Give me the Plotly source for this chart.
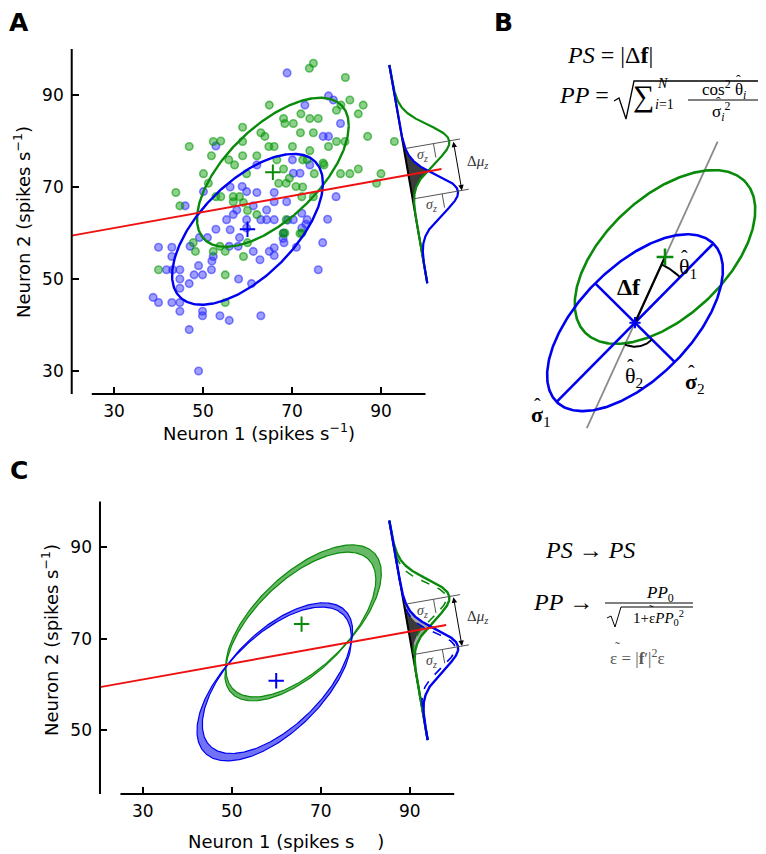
import numpy as np
import plotly.graph_objects as go

W, H = 766, 854          # reference picture size
OFF = 8                   # page body margin
FW, FH = W - OFF, H - OFF  # figure size so that it fits the window

# ---------------- data ----------------
green_x = [74.8, 73.9, 82.0, 83.0, 86.0, 84.9, 80.0, 81.0, 64.9, 72.0, 74.0, 75.9, 68.1, 68.4, 70.3,
           71.9, 74.8, 87.0, 93.0, 80.0, 81.9, 78.2, 70.1, 64.8, 66.0, 58.9, 63.0, 63.9, 52.3,
           46.9, 58.9, 51.9, 55.8, 57.1, 58.9, 62.1, 66.6, 68.1, 72.4, 73.4, 74.0, 77.2, 84.9,
           80.9, 83.0, 90.0, 89.0, 75.0, 50.1, 59.8, 69.4, 70.9, 67.0, 68.7, 51.2, 43.9, 44.8,
           52.9, 54.0, 56.8, 58.2, 56.8, 59.1, 60.0, 72.4, 72.2, 74.8, 68.7, 68.4, 72.2, 62.1,
           53.8, 47.8, 48.3, 52.3, 55.0, 59.1, 60.0, 40.0, 55.0, 55.0, 54.0, 68.0, 71.8, 77.0]
green_y = [96.9, 95.8, 93.8, 88.9, 87.8, 85.9, 86.7, 87.8, 87.8, 85.9, 84.9, 84.9, 84.9, 83.8, 83.8,
           81.8, 81.8, 81.0, 79.9, 79.9, 79.9, 78.8, 78.8, 78.8, 78.8, 83.0, 81.8, 81.0, 79.9,
           78.8, 79.9, 76.8, 75.9, 74.8, 76.8, 76.8, 75.9, 73.9, 75.9, 75.9, 77.9, 74.8, 73.9,
           72.9, 72.9, 72.9, 70.8, 72.9, 72.9, 72.9, 71.9, 70.1, 70.8, 70.8, 70.8, 68.8, 65.9,
           67.9, 67.9, 67.9, 67.9, 66.8, 66.6, 64.9, 70.0, 67.9, 67.9, 62.9, 60.0, 60.0, 64.0,
           57.1, 57.9, 56.0, 56.0, 56.0, 54.9, 57.9, 52.0, 50.9, 44.9, 80.0, 59.9, 59.9, 75.2]

blue_x = [68.9, 78.2, 79.3, 72.9, 80.9, 77.0, 78.2, 52.9, 62.1, 70.3, 71.8, 70.1, 74.0, 50.1,
          46.0, 56.1, 58.8, 59.8, 62.1, 66.0, 66.0, 68.8, 61.3, 57.6, 56.8, 55.3, 59.8, 59.8,
          63.0, 64.3, 66.0, 70.3, 72.2, 73.4, 52.9, 49.2, 51.0, 47.1, 58.2, 57.9, 61.3, 64.9,
          66.0, 62.8, 68.2, 76.9, 78.0, 75.9, 40.0, 43.0, 43.0, 41.8, 43.2, 44.8, 49.0, 48.0,
          49.9, 51.9, 44.8, 44.8, 46.9, 58.0, 60.9, 38.8, 40.0, 43.0, 44.8, 44.8, 49.9, 49.9,
          53.8, 55.9, 63.0, 46.9, 49.0, 79.9, 64.3, 68.1, 72.2, 56.1, 52.3, 55.9, 69.0, 68.0,
          73.1, 66.0, 71.0, 52.0]
blue_y = [94.8, 89.8, 88.9, 87.8, 83.8, 81.0, 81.0, 78.9, 74.8, 73.0, 73.0, 75.9, 74.8, 69.0,
          65.9, 70.0, 70.1, 69.0, 68.8, 68.8, 66.8, 66.8, 65.9, 65.0, 64.0, 62.9, 62.9, 61.1,
          62.9, 62.9, 62.9, 62.9, 61.1, 62.9, 60.8, 59.0, 59.0, 57.1, 59.0, 57.1, 56.0, 56.0,
          55.1, 54.2, 57.9, 57.9, 63.0, 52.0, 56.9, 56.9, 54.9, 52.0, 52.0, 52.0, 52.9, 50.9,
          50.9, 52.0, 50.0, 48.0, 49.0, 50.0, 49.0, 46.0, 44.9, 44.9, 44.9, 43.0, 43.0, 42.0,
          42.0, 41.0, 42.0, 39.0, 30.0, 67.9, 65.0, 60.0, 64.3, 60.7, 54.9, 57.1, 62.8, 58.8,
          61.9, 56.8, 56.9, 53.9]

tick_x = [30, 50, 70, 90]
tick_y_a = [30, 50, 70, 90]
tick_y_c = [50, 70, 90]

# covariance ellipses: centre, half extent (x, y), coupling (cos of phase)
green_center = [65.7, 73.2]
blue_center = [60.0, 60.8]
green_extent = [17.05, 16.2]
blue_extent = [16.95, 16.4]
green_link = 0.625
blue_link = 0.61

# decision line defined by the two ellipse crossings
boundary_x = [49.0, 76.5]
boundary_y = [64.4, 69.2]

# projected distributions (screen units along the projection axis)
proj_mu = [85.0, 136.0]        # green, blue
proj_sigma = 19.5
proj_peak = 46.0
proj_sigma_noisy = 20.5
proj_sigma_clean = 17.5
proj_peak_clean = 43.0

# ---------------- panel geometry (reference pixels) ----------------
PA = dict(x0=114.0, xs=4.45, y0=95.0, ys=4.6, xr=(20.5, 112.0), yr=(25.0, 100.0))
PC = dict(x0=142.7, xs=4.45, y0=547.3, ys=4.57, xr=(20.4, 110.0), yr=(36.0, 100.0))
axisA = dict(x=[91.87, 100.4], y=[96.52, 49.07])
axisC = dict(x=[85.42, 94.04], y=[95.82, 47.83])
red_end = dict(A=103.6, C=98.2)


def FX(X):
    return (X - OFF) / FW


def FY(Y):
    return 1 - (Y - OFF) / FH


def sx(p, x):
    return p['x0'] + (np.asarray(x, float) - 30.0) * p['xs']


def sy(p, y):
    return p['y0'] + (90.0 - np.asarray(y, float)) * p['ys']


def dx(p, X):
    return 30.0 + (np.asarray(X, float) - p['x0']) / p['xs']


def dy(p, Y):
    return 90.0 - (np.asarray(Y, float) - p['y0']) / p['ys']


def domain(p):
    return ([FX(float(sx(p, p['xr'][0]))), FX(float(sx(p, p['xr'][1])))],
            [FY(float(sy(p, p['yr'][0]))), FY(float(sy(p, p['yr'][1])))])


slope = (boundary_y[1] - boundary_y[0]) / (boundary_x[1] - boundary_x[0])
icpt = boundary_y[0] - slope * boundary_x[0]

GREEN = '#0a8a0a'
BLUE = '#0000f0'
RED = '#ee1111'
SERIF = 'Liberation Serif'


def ellipse(c, e, k, n=400):
    t = np.linspace(0, 2 * np.pi, n)
    ph = np.arccos(k)
    return c[0] + e[0] * np.cos(t), c[1] + e[1] * np.cos(t - ph)


fig = go.Figure()

# ---------------- panel A ----------------
fig.add_trace(go.Scatter(x=blue_x, y=blue_y, mode='markers', xaxis='x', yaxis='y',
                         marker=dict(size=7.5, color='rgba(40,40,255,0.45)',
                                     line=dict(color='rgba(40,40,255,0.55)', width=1.6))))
fig.add_trace(go.Scatter(x=green_x, y=green_y, mode='markers', xaxis='x', yaxis='y',
                         marker=dict(size=7.5, color='rgba(0,150,0,0.45)',
                                     line=dict(color='rgba(0,150,0,0.55)', width=1.6))))
for c, e, k, col in [(green_center, green_extent, green_link, GREEN),
                     (blue_center, blue_extent, blue_link, BLUE)]:
    ex, ey = ellipse(c, e, k)
    fig.add_trace(go.Scatter(x=ex, y=ey, mode='lines', xaxis='x', yaxis='y',
                             line=dict(color=col, width=2.4)))


def add_centres(xa, ya):
    fig.add_trace(go.Scatter(x=[green_center[0]], y=[green_center[1]], mode='markers',
                             xaxis=xa, yaxis=ya,
                             marker=dict(symbol='cross-thin', size=11, line=dict(color=GREEN, width=2))))
    fig.add_trace(go.Scatter(x=[blue_center[0]], y=[blue_center[1]], mode='markers',
                             xaxis=xa, yaxis=ya,
                             marker=dict(symbol='cross-thin', size=11, line=dict(color=BLUE, width=2))))


add_centres('x', 'y')


def add_projection(p, xa, ya, ax_geo, noisy=False):
    T = np.array([sx(p, ax_geo['x'][0]), sy(p, ax_geo['y'][0])], float)
    Bv = np.array([sx(p, ax_geo['x'][1]), sy(p, ax_geo['y'][1])], float)
    L = np.linalg.norm(Bv - T)
    u = (Bv - T) / L
    n = np.array([u[1], -u[0]])
    s = np.linspace(0, L, 600)

    def pt(ss, dd):
        ss = np.asarray(ss, float)
        dd = np.asarray(dd, float)
        return dx(p, T[0] + ss * u[0] + dd * n[0]), dy(p, T[1] + ss * u[1] + dd * n[1])

    def gauss(mu, sig, h):
        return h * np.exp(-(s - mu) ** 2 / (2 * sig ** 2))

    def overlap(sig, h, col):
        m = np.minimum(gauss(proj_mu[0], sig, h), gauss(proj_mu[1], sig, h))
        keep = m > 0.15
        ss = s[keep]
        mm = m[keep]
        cx, cy = pt(np.concatenate([ss, ss[::-1]]), np.concatenate([mm, np.zeros_like(mm)]))
        fig.add_trace(go.Scatter(x=cx, y=cy, mode='lines', fill='toself', fillcolor=col,
                                 line=dict(width=0), xaxis=xa, yaxis=ya))

    if noisy:
        overlap(proj_sigma_noisy, proj_peak, '#a8a8a8')
        overlap(proj_sigma_clean, proj_peak_clean, '#3a3a3a')
    else:
        overlap(proj_sigma, proj_peak, '#3c3c3c')

    ax_x, ax_y = pt([0, L], [0, 0])
    fig.add_trace(go.Scatter(x=ax_x, y=ax_y, mode='lines', xaxis=xa, yaxis=ya,
                             line=dict(color='black', width=2)))

    for mu, col in zip(proj_mu, [GREEN, BLUE]):
        if noisy:
            gx, gy = pt(s, gauss(mu, proj_sigma_clean, proj_peak_clean))
            fig.add_trace(go.Scatter(x=gx, y=gy, mode='lines', xaxis=xa, yaxis=ya,
                                     line=dict(color=col, width=1.6, dash='dash')))
            gx, gy = pt(s, gauss(mu, proj_sigma_noisy, proj_peak))
            fig.add_trace(go.Scatter(x=gx, y=gy, mode='lines', xaxis=xa, yaxis=ya,
                                     line=dict(color=col, width=2.4)))
        else:
            gx, gy = pt(s, gauss(mu, proj_sigma, proj_peak))
            fig.add_trace(go.Scatter(x=gx, y=gy, mode='lines', xaxis=xa, yaxis=ya,
                                     line=dict(color=col, width=2.2)))
        mx, my = pt([mu, mu], [0, 57])
        fig.add_trace(go.Scatter(x=mx, y=my, mode='lines', xaxis=xa, yaxis=ya,
                                 line=dict(color='#555555', width=1)))
        tx, ty = pt([mu, mu + 14], [30, 30])
        fig.add_trace(go.Scatter(x=tx, y=ty, mode='lines', xaxis=xa, yaxis=ya,
                                 line=dict(color='#555555', width=1)))
        lx, ly = pt(mu + 10, 17)
        fig.add_annotation(x=float(lx), y=float(ly), xref=xa, yref=ya, showarrow=False,
                           text='<i>σ<sub>z</sub></i>',
                           font=dict(family=SERIF, size=14, color='#444444'))
    hx, hy = pt([proj_mu[0], proj_mu[1]], [50, 50])
    fig.add_annotation(x=float(hx[1]), y=float(hy[1]), ax=float(hx[0]), ay=float(hy[0]),
                       xref=xa, yref=ya, axref=xa, ayref=ya, text='', showarrow=True,
                       arrowhead=2, arrowside='end+start', arrowsize=1.1, arrowwidth=1,
                       arrowcolor='black', standoff=0, startstandoff=0)
    lx, ly = pt((proj_mu[0] + proj_mu[1]) / 2, 70)
    fig.add_annotation(x=float(lx), y=float(ly), xref=xa, yref=ya, showarrow=False,
                       text='Δ<i>μ<sub>z</sub></i>',
                       font=dict(family=SERIF, size=15, color='#333333'))


add_projection(PA, 'x', 'y', axisA)
rx = np.array([PA['xr'][0], red_end['A']])
fig.add_trace(go.Scatter(x=rx, y=icpt + slope * rx, mode='lines', xaxis='x', yaxis='y',
                         line=dict(color=RED, width=2)))

# ---------------- panel C ----------------
band_out = 0.0085
band_in = 0.0035
for c, e, k, col, fillc in [(green_center, green_extent, green_link, GREEN, 'rgba(10,140,10,0.62)'),
                            (blue_center, blue_extent, blue_link, BLUE, 'rgba(20,20,240,0.6)')]:
    ex, ey = ellipse(c, e, k)
    dist = np.abs(ey - (icpt + slope * ex)) ** 0.7
    ox = c[0] + (1 + band_out * dist) * (ex - c[0])
    oy = c[1] + (1 + band_out * dist) * (ey - c[1])
    ix = c[0] + (1 - band_in * dist) * (ex - c[0])
    iy = c[1] + (1 - band_in * dist) * (ey - c[1])
    fig.add_trace(go.Scatter(x=np.concatenate([ox, ix[::-1]]), y=np.concatenate([oy, iy[::-1]]),
                             mode='lines', fill='toself', fillcolor=fillc,
                             line=dict(width=0), xaxis='x2', yaxis='y2'))
    for bx, by in [(ox, oy), (ix, iy)]:
        fig.add_trace(go.Scatter(x=bx, y=by, mode='lines', xaxis='x2', yaxis='y2',
                                 line=dict(color=col, width=1.2)))
add_centres('x2', 'y2')
add_projection(PC, 'x2', 'y2', axisC, noisy=True)
rx = np.array([PC['xr'][0], red_end['C']])
fig.add_trace(go.Scatter(x=rx, y=icpt + slope * rx, mode='lines', xaxis='x2', yaxis='y2',
                         line=dict(color=RED, width=2)))

# ---------------- panel B schematic (reference pixel units on x3/y3) ----------------
b_blue_c = np.array([635.0, 322.7])
b_blue_ax = [111.4, 56.0]
b_blue_ang = 45.3
b_green_c = np.array([665.0, 257.0])
b_green_ax = [110.0, 60.0]
b_green_ang = 43.0


def rot_ellipse(c, axs, ang, n=400):
    t = np.linspace(0, 2 * np.pi, n)
    a = np.deg2rad(ang)
    ma = np.array([np.cos(a), -np.sin(a)])
    mi = np.array([np.sin(a), np.cos(a)])
    x = c[0] + axs[0] * np.cos(t) * ma[0] + axs[1] * np.sin(t) * mi[0]
    y = c[1] + axs[0] * np.cos(t) * ma[1] + axs[1] * np.sin(t) * mi[1]
    return x, y, ma, mi


def line3(x, y, col, w, dash=None):
    fig.add_trace(go.Scatter(x=x, y=y, mode='lines', xaxis='x3', yaxis='y3',
                             line=dict(color=col, width=w, dash=dash)))


bx_, by_, ma, mi = rot_ellipse(b_blue_c, b_blue_ax, b_blue_ang)
gx_, gy_, _, _ = rot_ellipse(b_green_c, b_green_ax, b_green_ang)
df = b_green_c - b_blue_c
dfu = df / np.linalg.norm(df)
line3([b_blue_c[0] - 116 * dfu[0], b_blue_c[0] + 199 * dfu[0]],
      [b_blue_c[1] - 116 * dfu[1], b_blue_c[1] + 199 * dfu[1]], '#8a8a8a', 1.8)
line3(gx_, gy_, GREEN, 2.6)
line3(bx_, by_, BLUE, 2.6)
line3([b_blue_c[0] - b_blue_ax[0] * ma[0], b_blue_c[0] + b_blue_ax[0] * ma[0]],
      [b_blue_c[1] - b_blue_ax[0] * ma[1], b_blue_c[1] + b_blue_ax[0] * ma[1]], BLUE, 2.6)
line3([b_blue_c[0] - b_blue_ax[1] * mi[0], b_blue_c[0] + b_blue_ax[1] * mi[0]],
      [b_blue_c[1] - b_blue_ax[1] * mi[1], b_blue_c[1] + b_blue_ax[1] * mi[1]], BLUE, 2.6)
line3([b_blue_c[0], b_green_c[0]], [b_blue_c[1], b_green_c[1]], 'black', 2.2)


def arc(r, d1, d2):
    a1 = np.arctan2(d1[1], d1[0])
    a2 = np.arctan2(d2[1], d2[0])
    if a2 < a1:
        a1, a2 = a2, a1
    if a2 - a1 > np.pi:
        a1, a2 = a2, a1 + 2 * np.pi
    t = np.linspace(a1, a2, 40)
    line3(b_blue_c[0] + r * np.cos(t), b_blue_c[1] + r * np.sin(t), 'black', 2)


arc(64, dfu, ma)
arc(24, -dfu, mi)
fig.add_trace(go.Scatter(x=[b_green_c[0]], y=[b_green_c[1]], mode='markers', xaxis='x3', yaxis='y3',
                         marker=dict(symbol='cross-thin', size=12, line=dict(color=GREEN, width=2.5))))
fig.add_trace(go.Scatter(x=[b_blue_c[0]], y=[b_blue_c[1]], mode='markers', xaxis='x3', yaxis='y3',
                         marker=dict(symbol='cross-thin', size=8, line=dict(color=BLUE, width=2))))


def txt(x, y, s, size, color='black', family=SERIF, xanchor='center'):
    fig.add_annotation(x=x, y=y, xref='x3', yref='y3', text=s, showarrow=False,
                       xanchor=xanchor, yanchor='middle',
                       font=dict(family=family, size=size, color=color))


def hat(x, y, size, ch='ˆ', color='black'):
    txt(x, y, ch, size, color=color)


txt(629, 287, '<b>Δf</b>', 24)
txt(688, 268, 'θ<sub>1</sub>', 22)
hat(684, 258, 20)
txt(634, 377, 'θ<sub>2</sub>', 22)
hat(630, 367, 20)
txt(695, 383, '<b>σ</b><sub>2</sub>', 22)
hat(691, 373, 20)
txt(541, 416, '<b>σ</b><sub>1</sub>', 22)
hat(537, 406, 20)

# formulas panel B
txt(610, 55, '<i>PS</i> = |Δ<b>f</b>|', 24)
txt(584, 95, '<i>PP</i> =', 24)
line3([614, 619, 626, 634, 763], [101, 98, 119, 81, 81], 'black', 1.3)
txt(643, 96, '∑', 30)
txt(655, 83, '<i>N</i>', 14, xanchor='left')
txt(653, 104, '<i>i</i>=1', 14, xanchor='left')
txt(724, 89, 'cos<sup>2</sup> θ<sub><i>i</i></sub>', 17)
hat(738, 80, 14)
line3([688, 760], [100, 100], 'black', 1)
txt(721, 111, 'σ<sub><i>i</i></sub><sup>2</sup>', 17)
hat(718, 102, 14)

# formulas panel C
txt(590, 550, '<i>PS</i> → <i>PS</i>', 24)
txt(563, 602, '<i>PP</i> →', 24)
txt(660, 594, '<i>PP</i><sub>0</sub>', 17)
line3([605, 693], [603, 603], 'black', 1)
line3([607, 611, 615, 621, 693], [618, 616, 627, 607, 607], 'black', 1)
txt(658, 618, '1+ε<i>PP</i><sub>0</sub><sup>2</sup>', 15)
hat(651, 609, 13, ch='˜')
txt(637, 657, 'ε = |<b>f</b>′|<sup>2</sup>ε', 17, color='#555555')
hat(617, 647, 15, ch='˜', color='#555555')

# ---------------- axes, spines, labels ----------------
dA = domain(PA)
dC = domain(PC)
tickfont = dict(family='DejaVu Sans', size=17, color='black')
common = dict(showgrid=False, zeroline=False, showline=False, ticks='inside', ticklen=7,
              tickwidth=1.5, tickcolor='black', tickfont=tickfont, fixedrange=True)
fig.update_layout(
    xaxis=dict(domain=dA[0], range=list(PA['xr']), tickvals=tick_x, anchor='y',
               ticklabelstandoff=5, **common),
    yaxis=dict(domain=dA[1], range=list(PA['yr']), tickvals=tick_y_a, anchor='x',
               ticklabelstandoff=7, **common),
    xaxis2=dict(domain=dC[0], range=list(PC['xr']), tickvals=tick_x, anchor='y2',
                ticklabelstandoff=5, **common),
    yaxis2=dict(domain=dC[1], range=list(PC['yr']), tickvals=tick_y_c, anchor='x2',
                ticklabelstandoff=7, **common),
    xaxis3=dict(domain=[0, 1], range=[OFF, OFF + FW], visible=False, fixedrange=True, anchor='y3'),
    yaxis3=dict(domain=[0, 1], range=[OFF + FH, OFF], visible=False, fixedrange=True, anchor='x3'),
)

shapes = []
for p in (PA, PC):
    xl = float(sx(p, p['xr'][0]))
    yb = float(sy(p, p['yr'][0]))
    yt = float(sy(p, p['yr'][1]))
    shapes.append(dict(type='line', xref='paper', yref='paper', x0=FX(xl), x1=FX(xl),
                       y0=FY(yb), y1=FY(yt), line=dict(color='black', width=2)))
    shapes.append(dict(type='line', xref='paper', yref='paper',
                       x0=FX(float(sx(p, 25))), x1=FX(float(sx(p, 100))),
                       y0=FY(yb), y1=FY(yb), line=dict(color='black', width=2)))
fig.update_layout(shapes=shapes)


def ptxt(x, y, s, size, angle=0, family='DejaVu Sans'):
    fig.add_annotation(x=FX(x), y=FY(y), xref='paper', yref='paper', text=s, showarrow=False,
                       xanchor='center', yanchor='middle', textangle=angle,
                       font=dict(family=family, size=size, color='black'))


ptxt(259, 432, 'Neuron 1 (spikes s<sup>−1</sup>)', 18)
ptxt(22, 222, 'Neuron 2 (spikes s<sup>−1</sup>)', 18, angle=-90)
ptxt(286, 841, 'Neuron 1 (spikes s    )', 18)
ptxt(50, 640, 'Neuron 2 (spikes s<sup>−1</sup>)', 18, angle=-90)
ptxt(19, 23, '<b>A</b>', 25)
ptxt(503, 23, '<b>B</b>', 25)
ptxt(19, 471, '<b>C</b>', 25)

fig.update_layout(width=FW, height=FH, autosize=False, showlegend=False,
                  margin=dict(l=0, r=0, t=0, b=0),
                  paper_bgcolor='white', plot_bgcolor='rgba(0,0,0,0)')
fig.write_html('out.html')
